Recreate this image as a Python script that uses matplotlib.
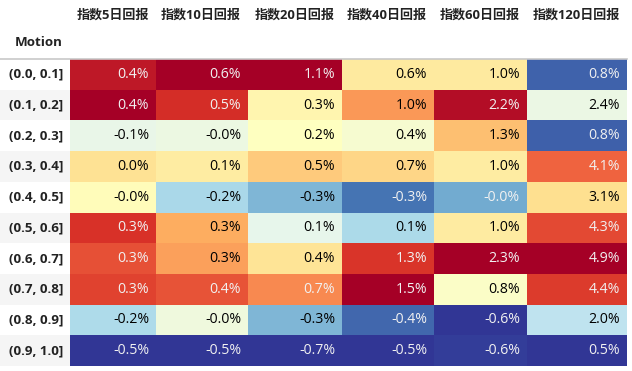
import matplotlib
matplotlib.use("Agg")
import matplotlib.pyplot as plt
from matplotlib.patches import Rectangle
from matplotlib import colors as mcolors
import numpy as np

# ---- data (percent) ----
row_labels = ["(0.0, 0.1]", "(0.1, 0.2]", "(0.2, 0.3]", "(0.3, 0.4]", "(0.4, 0.5]",
              "(0.5, 0.6]", "(0.6, 0.7]", "(0.7, 0.8]", "(0.8, 0.9]", "(0.9, 1.0]"]
index_name = "Motion"
col_names = ["指数5日回报", "指数10日回报", "指数20日回报", "指数40日回报", "指数60日回报", "指数120日回报"]
ret_5d = [0.39, 0.44, -0.12, 0.04, -0.04, 0.34, 0.29, 0.31, -0.24, -0.54]
ret_10d = [0.62, 0.51, -0.02, 0.12, -0.18, 0.28, 0.30, 0.44, -0.01, -0.52]
ret_20d = [1.10, 0.26, 0.20, 0.46, -0.30, 0.06, 0.36, 0.66, -0.30, -0.70]
ret_40d = [0.63, 0.96, 0.43, 0.73, -0.32, 0.09, 1.28, 1.50, -0.36, -0.52]
ret_60d = [1.04, 2.21, 1.32, 1.02, -0.04, 1.03, 2.30, 0.80, -0.62, -0.58]
ret_120d = [0.82, 2.42, 0.80, 4.08, 3.14, 4.28, 4.90, 4.38, 1.98, 0.50]
columns = [ret_5d, ret_10d, ret_20d, ret_40d, ret_60d, ret_120d]

# ---- layout (pixels) ----
W, H = 632, 371
col_edges = [0, 70, 156, 248, 342, 434, 527, 627]
table_top = 59
table_bottom = 366
header_y = 15
index_name_y = 42
pad = 7

fig = plt.figure(figsize=(W / 100, H / 100), dpi=100)
ax = fig.add_axes([0, 0, 1, 1])
ax.set_xlim(0, W)
ax.set_ylim(H, 0)
ax.axis("off")

fam = ["Open Sans", "Noto Sans CJK SC", "DejaVu Sans"]
cmap = matplotlib.colormaps["RdYlBu_r"]

def luminance(c):
    def lin(x):
        return x / 12.92 if x <= 0.04045 else ((x + 0.055) / 1.055) ** 2.4
    r, g, b = [lin(v) for v in c[:3]]
    return 0.2126 * r + 0.7152 * g + 0.0722 * b

n = len(row_labels)
row_h = (table_bottom - table_top) / n

# header
for j, name in enumerate(col_names):
    ax.text(col_edges[j + 2] - pad, header_y, name, ha="right", va="center",
            fontsize=9.4, fontweight="bold", family=fam, color="#222222")
ax.text(col_edges[1] - pad, index_name_y, index_name, ha="right", va="center",
        fontsize=9.6, fontweight="bold", family=fam, color="#222222")

# row labels
for i, lab in enumerate(row_labels):
    y0 = table_top + i * row_h
    bg = "#ffffff" if i % 2 == 0 else "#f5f5f5"
    ax.add_patch(Rectangle((col_edges[0], y0), col_edges[1] - col_edges[0], row_h,
                           facecolor=bg, edgecolor="none"))
    ax.text(col_edges[1] - pad, y0 + row_h / 2, lab, ha="right", va="center",
            fontsize=9.6, fontweight="bold", family=fam, color="#222222")

# cells
for j, vals in enumerate(columns):
    arr = np.asarray(vals)
    norm = mcolors.Normalize(vmin=arr.min(), vmax=arr.max())
    x0, x1 = col_edges[j + 1], col_edges[j + 2]
    for i, v in enumerate(arr):
        y0 = table_top + i * row_h
        c = cmap(norm(v))
        ax.add_patch(Rectangle((x0, y0), x1 - x0, row_h, facecolor=c, edgecolor="none"))
        tc = "#f1f1f1" if luminance(c) < 0.408 else "#000000"
        ax.text(x1 - pad, y0 + row_h / 2, f"{v:.1f}%", ha="right", va="center",
                fontsize=10.2, family=fam, color=tc)

ax.plot([0, col_edges[-1]], [table_top - 0.5, table_top - 0.5], color="#c8c8c8", lw=1.2)

fig.savefig("out.png", dpi=100)
